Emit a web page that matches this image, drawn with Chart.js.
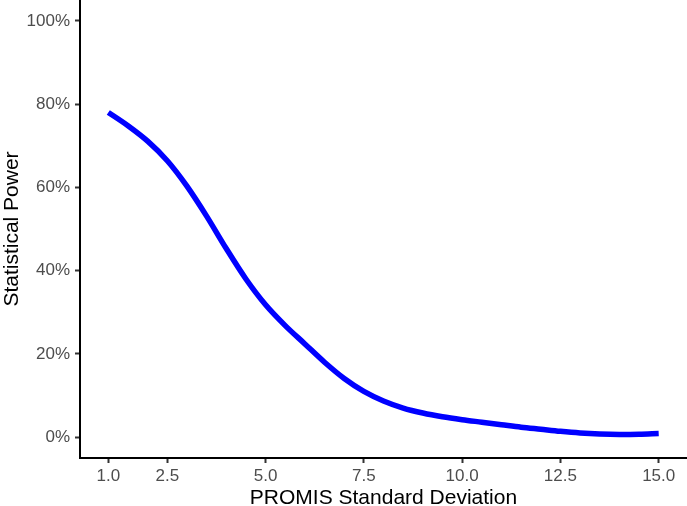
<!DOCTYPE html>
<html>
<head>
<meta charset="utf-8">
<script src="https://cdn.jsdelivr.net/npm/chart.js@4"></script>
<style>
  html, body { margin: 0; padding: 0; background: #ffffff; }
  #wrap { width: 687px; height: 506px; }
</style>
</head>
<body>
<div id="wrap"><canvas id="powerChart" width="687" height="506"></canvas></div>
<script>
// ── data ──
const sdValues = [1.0, 1.5, 2.0, 2.5, 3.0, 3.5, 4.0, 4.5, 5.0, 5.5, 6.0, 6.5, 7.0, 7.5,
                  8.0, 8.5, 9.0, 9.5, 10.0, 10.5, 11.0, 11.5, 12.0, 12.5, 13.0, 13.5, 14.0, 14.5, 15.0];
const powerValues = [0.780, 0.748, 0.711, 0.664, 0.603, 0.531, 0.453, 0.380, 0.318, 0.268, 0.224, 0.180, 0.141, 0.110,
                     0.087, 0.070, 0.058, 0.049, 0.042, 0.036, 0.030, 0.024, 0.019, 0.014, 0.010, 0.0075, 0.0065, 0.007, 0.009];
const xTicks = [1.0, 2.5, 5.0, 7.5, 10.0, 12.5, 15.0];
const yTicks = [0, 0.2, 0.4, 0.6, 0.8, 1.0];

const tickFont = { family: "'Liberation Sans', Arial, sans-serif", size: 17 };
const titleFont = { family: "'Liberation Sans', Arial, sans-serif", size: 21, lineHeight: 1 };

const points = sdValues.map((x, i) => ({ x: x, y: powerValues[i] }));

function fixTicks(list) {
  return function(scale) {
    scale.ticks = list.map(v => ({ value: v }));
  };
}

new Chart(document.getElementById('powerChart').getContext('2d'), {
  type: 'line',
  data: {
    datasets: [{
      data: points,
      borderColor: '#0000FF',
      borderWidth: 5.5,
      pointRadius: 0,
      fill: false,
      cubicInterpolationMode: 'monotone'
    }]
  },
  options: {
    responsive: false,
    animation: false,
    layout: { padding: 0 },
    plugins: {
      legend: { display: false },
      tooltip: { enabled: false }
    },
    scales: {
      x: {
        type: 'linear',
        min: 0.28,
        max: 15.72,
        afterBuildTicks: fixTicks(xTicks),
        afterFit: function(scale) {
          scale.height = 48;
          scale.paddingLeft = 0;
          scale.paddingRight = 0;
        },
        border: { display: true, color: '#000000', width: 2 },
        grid: { drawOnChartArea: false, drawTicks: true, tickLength: 5, tickColor: '#333333', tickWidth: 2 },
        ticks: {
          font: tickFont,
          color: '#4D4D4D',
          padding: 3,
          maxRotation: 0,
          callback: v => Number(v).toFixed(1)
        },
        title: {
          display: true,
          text: 'PROMIS Standard Deviation',
          font: titleFont,
          color: '#000000',
          padding: { top: 0, bottom: -3 }
        }
      },
      y: {
        type: 'linear',
        min: -0.05,
        max: 1.05,
        afterBuildTicks: fixTicks(yTicks),
        afterFit: function(scale) {
          scale.width = 80;
          scale.paddingTop = 0;
          scale.paddingBottom = 0;
        },
        border: { display: true, color: '#000000', width: 2 },
        grid: { drawOnChartArea: false, drawTicks: true, tickLength: 5, tickColor: '#333333', tickWidth: 2 },
        ticks: {
          font: tickFont,
          color: '#4D4D4D',
          padding: 5,
          callback: v => Math.round(v * 100) + '%'
        },
        title: {
          display: true,
          text: 'Statistical Power',
          font: titleFont,
          color: '#000000',
          padding: { top: 2, bottom: 0 }
        }
      }
    }
  }
});
</script>
</body>
</html>
